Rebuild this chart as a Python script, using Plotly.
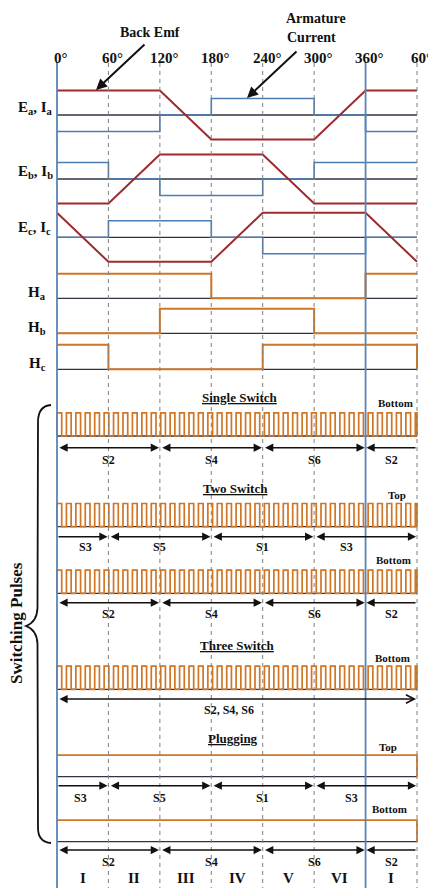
import plotly.graph_objects as go

# ---------------- data ----------------
deg_ticks = [0, 60, 120, 180, 240, 300, 360, 420]
deg_labels = ["0°", "60°", "120°", "180°", "240°", "300°", "360°", "60°"]

# back-EMF trapezoids (breakpoints in electrical degrees, normalised value)
emf_a_deg = [0, 120, 180, 300, 360, 420]
emf_a_val = [1, 1, -1, -1, 1, 1]
emf_b_deg = [0, 60, 120, 240, 300, 420]
emf_b_val = [-1, -1, 1, 1, -1, -1]
emf_c_deg = [0, 60, 180, 240, 360, 420]
emf_c_val = [1, -1, -1, 1, 1, -1]

# phase currents per 60° sector (0-60, 60-120, ..., 360-420)
cur_a = [-1, -1, 0, 1, 1, 0, -1]
cur_b = [1, 0, -1, -1, 0, 1, 1]
cur_c = [0, 1, 1, 0, -1, -1, 0]

# hall sensor states per 60° sector
hall_a = [1, 1, 1, 0, 0, 0, 1]
hall_b = [0, 0, 1, 1, 1, 0, 0]
hall_c = [1, 0, 0, 0, 1, 1, 1]

carrier_period_deg = 11.0   # PWM carrier period seen in switching pulses

# switch conduction intervals
bottom_spans = [(0, 120), (120, 240), (240, 360), (360, 420)]
bottom_names = ["S2", "S4", "S6", "S2"]
bottom_name_deg = [60, 180, 300, 390]
bottom_heads = ["both", "both", "both", "left"]

top_spans = [(0, 60), (60, 180), (180, 300), (300, 420)]
top_names = ["S3", "S5", "S1", "S3"]
top_name_deg = [33, 120, 240, 338]
top_heads = ["right", "both", "both", "both"]

sector_names = ["I", "II", "III", "IV", "V", "VI", "I"]
sector_mid_deg = [30, 90, 150, 210, 270, 330, 390]

# ---------------- styling / layout ----------------
W, H = 428, 888
X0PX, PXDEG = 57.0, 360.0 / 420.0


def d(px):
    return (px - X0PX) / PXDEG


EMF_C = "#9E2A2F"
CUR_C = "#4A7DB3"
BASE_C = "#2E3645"
ORANGE = "#CF7627"
VLINE_C = "#5A85B5"
DASH_C = "#808080"
FONT = "Liberation Serif"

fig = go.Figure()


def line(xs, ys, color, width):
    fig.add_trace(go.Scatter(x=xs, y=ys, mode="lines", line=dict(color=color, width=width),
                             hoverinfo="skip", showlegend=False))


def steps(values):
    xs, ys = [], []
    for i, v in enumerate(values):
        xs += [60 * i, 60 * (i + 1)]
        ys += [v, v]
    return xs, ys


# baselines
rows = {"a": 115.0, "b": 179.0, "c": 237.3}
hall_rows = {"a": 298.3, "b": 333.3, "c": 369.3}
pulse_rows = [436.0, 526.7, 593.3, 689.3]
plug_rows = [776.7, 841.7]
EMF_AMP, CUR_AMP, HALL_AMP, PULSE_AMP, PLUG_AMP = 24.5, 16.5, 24.5, 23.2, 21.5

for yb in list(rows.values()) + list(hall_rows.values()) + pulse_rows + plug_rows:
    line([0, 420], [yb, yb], BASE_C, 1.3)

# currents
for vals, key in [(cur_a, "a"), (cur_b, "b"), (cur_c, "c")]:
    xs, ys = steps(vals)
    line(xs, [rows[key] - CUR_AMP * v for v in ys], CUR_C, 1.6)

# back emf
for xs, vs, key in [(emf_a_deg, emf_a_val, "a"), (emf_b_deg, emf_b_val, "b"), (emf_c_deg, emf_c_val, "c")]:
    line(xs, [rows[key] - EMF_AMP * v for v in vs], EMF_C, 2.0)

# hall signals
for vals, key in [(hall_a, "a"), (hall_b, "b"), (hall_c, "c")]:
    xs, ys = steps(vals)
    if key == "c":
        xs, ys = xs + [420], ys + [0]
    line(xs, [hall_rows[key] - HALL_AMP * v for v in ys], ORANGE, 2.0)

# PWM pulse trains
px_, py_ = [], []
t = 0.0
while t < 420 - 1e-6:
    t_on_end = min(t + carrier_period_deg / 2, 420)
    px_ += [t, t, t_on_end, t_on_end]
    py_ += [0, 1, 1, 0]
    t += carrier_period_deg
px_ += [420]
py_ += [0]
for yb in pulse_rows:
    line(px_, [yb - PULSE_AMP * v for v in py_], ORANGE, 1.7)

# plugging (continuous on)
for yb in plug_rows:
    line([0, 420, 420], [yb - PLUG_AMP, yb - PLUG_AMP, yb], ORANGE, 1.8)

shapes = []
# dashed sector lines
for dg in [60, 120, 180, 240, 300, 420]:
    shapes.append(dict(type="line", x0=dg, x1=dg, y0=63, y1=H, xref="x", yref="y",
                       line=dict(color=DASH_C, width=1, dash="4px,4px")))
for dg in [0, 360]:
    shapes.append(dict(type="line", x0=dg, x1=dg, y0=62, y1=H, xref="x", yref="y",
                       line=dict(color=VLINE_C, width=1.8)))

# brace
def P(x, y):
    return f"{d(x):.3f},{y:.2f}"

brace = (f"M {P(51,405)} Q {P(38,406)} {P(38,422)} L {P(37.5,608)} "
         f"Q {P(37,622)} {P(26,626)} Q {P(37,630)} {P(37.5,644)} "
         f"L {P(38,828)} Q {P(38,842)} {P(51,843)}")
shapes.append(dict(type="path", path=brace, xref="x", yref="y",
                   line=dict(color="#111111", width=1.8)))

ann = []


def text(x, y, s, size=13, bold=True, **kw):
    ann.append(dict(x=x, y=y, xref="x", yref="y", text=(f"<b>{s}</b>" if bold else s),
                    showarrow=False, font=dict(family=FONT, size=size, color="#111111"), **kw))


def arrow(x0, x1, y, heads, start_head=2, end_head=2):
    g = 1.0
    common = dict(xref="x", yref="y", axref="x", ayref="y", text="", showarrow=True,
                  arrowsize=1.1, arrowwidth=1.5, arrowcolor="#111111", standoff=0,
                  font=dict(size=10))
    if heads == "both":
        ann.append(dict(x=x1 - g, y=y, ax=x0 + g, ay=y, arrowside="end+start", arrowhead=end_head,
                        startarrowhead=start_head, startarrowsize=1.1, startstandoff=0, **common))
    elif heads == "right":
        ann.append(dict(x=x1 - g, y=y, ax=x0, ay=y, arrowside="end", arrowhead=end_head, **common))
    else:
        ann.append(dict(x=x0 + g, y=y, ax=x1, ay=y, arrowside="end", arrowhead=end_head, **common))


# degree labels
for dg, lab in zip(deg_ticks, deg_labels):
    text(dg + 5, 58, lab, size=15)

# annotations with arrows
text(d(150), 32, "Back Emf", size=14)
ann.append(dict(x=d(96), y=90, ax=d(146), ay=43, xref="x", yref="y", axref="x", ayref="y",
                text="", showarrow=True, arrowhead=2, arrowsize=1.1, arrowwidth=2,
                arrowcolor="#111111", standoff=0, font=dict(size=10)))
text(d(316), 18, "Armature", size=14)
text(d(311), 37, "Current", size=14)
ann.append(dict(x=d(247), y=98, ax=d(298), ay=50, xref="x", yref="y", axref="x", ayref="y",
                text="", showarrow=True, arrowhead=2, arrowsize=1.1, arrowwidth=2,
                arrowcolor="#111111", standoff=0, font=dict(size=10)))

# row labels
text(d(35), 108, "E<sub>a</sub>, I<sub>a</sub>", size=15)
text(d(35), 172, "E<sub>b</sub>, I<sub>b</sub>", size=15)
text(d(34), 228, "E<sub>c</sub>, I<sub>c</sub>", size=15)
text(d(37), 293, "H<sub>a</sub>", size=15)
text(d(37), 328, "H<sub>b</sub>", size=15)
text(d(37), 364, "H<sub>c</sub>", size=15)

# section titles
text(d(240), 397, "<u>Single Switch</u>", size=13)
text(d(235), 488, "<u>Two Switch</u>", size=13)
text(d(237), 645, "<u>Three Switch</u>", size=13)
text(d(233), 738, "<u>Plugging</u>", size=13)

for x, y, s in [(395, 403, "Bottom"), (397, 495, "Top"), (393, 560, "Bottom"),
                (392, 658, "Bottom"), (388, 747, "Top"), (389, 809, "Bottom")]:
    text(d(x), y, s, size=11)

# interval arrows + switch names
def interval_row(spans, heads, names, name_deg, y_arrow, y_name):
    for (a, b), h in zip(spans, heads):
        arrow(a, b, y_arrow, h)
    for n, dg in zip(names, name_deg):
        text(dg, y_name, n, size=12)


interval_row(bottom_spans, bottom_heads, bottom_names, bottom_name_deg, 447.7, 460)
interval_row(top_spans, top_heads, top_names, top_name_deg, 536.7, 547)
interval_row(bottom_spans, bottom_heads, bottom_names, bottom_name_deg, 602.7, 614)
arrow(0, 420, 699, "both", start_head=2, end_head=5)
text(201, 710, "S2, S4, S6", size=12)
interval_row(top_spans, top_heads, top_names, [27, 120, 240, 344], 785.7, 798)
interval_row(bottom_spans, bottom_heads, bottom_names, bottom_name_deg, 850, 862)

for n, dg in zip(sector_names, sector_mid_deg):
    text(dg, 878, n, size=15)

text(d(16), 623, "Switching Pulses", size=17, textangle=-90)

fig.update_layout(
    width=W, height=H, margin=dict(l=0, r=0, t=0, b=0),
    paper_bgcolor="white", plot_bgcolor="white",
    xaxis=dict(range=[d(0), d(W)], visible=False, fixedrange=True),
    yaxis=dict(range=[H, 0], visible=False, fixedrange=True),
    shapes=shapes, annotations=ann, showlegend=False,
)
fig.write_html("out.html", config={"displayModeBar": False},
               post_script="document.body.style.margin='0px';document.body.style.overflow='hidden';")
